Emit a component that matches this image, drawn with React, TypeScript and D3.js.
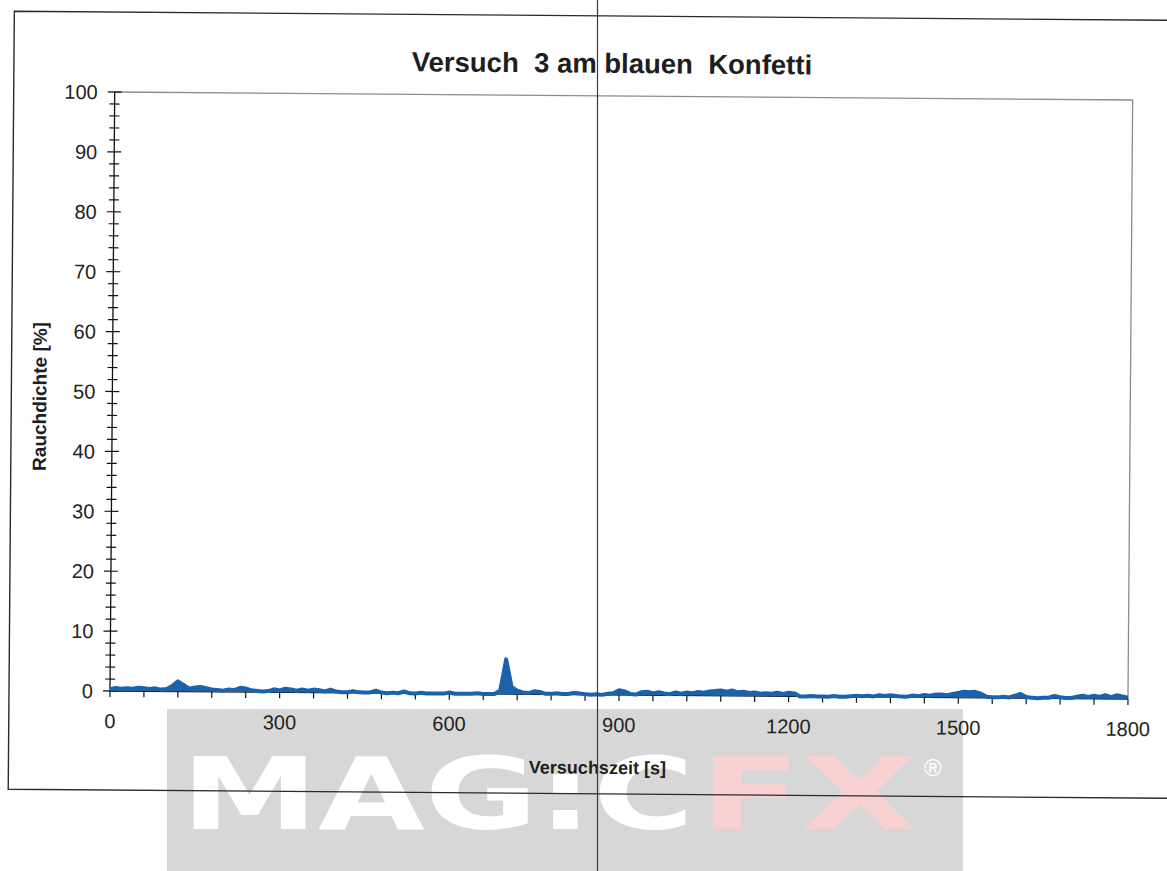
import React from "react";
import * as d3 from "d3";

const TITLE = "Versuch  3 am blauen  Konfetti";
const X_LABEL = "Versuchszeit [s]";
const Y_LABEL = "Rauchdichte [%]";
const X_TICK_LABELS = [0, 300, 600, 900, 1200, 1500, 1800];
const Y_TICK_LABELS = [0, 10, 20, 30, 40, 50, 60, 70, 80, 90, 100];

// sampled every 10 s, 0 .. 1800 s
const TIME_S = d3.range(0, 1801, 10);
const SMOKE_PCT = [
  0.3, 0.5, 0.4, 0.5, 0.4, 0.6, 0.5, 0.4, 0.5, 0.3,
  0.4, 0.9, 1.7, 1.1, 0.5, 0.7, 0.8, 0.6, 0.4, 0.3,
  0.2, 0.4, 0.3, 0.7, 0.6, 0.3, 0.2, 0.1, 0.2, 0.5,
  0.3, 0.6, 0.5, 0.3, 0.5, 0.3, 0.5, 0.4, 0.2, 0.5,
  0.2, 0.1, 0.1, 0.3, 0.1, 0.1, 0.1, 0.4, 0.1, 0.0,
  0.1, 0.0, 0.3, 0.0, 0.0, 0.1, 0.0, 0.0, 0.0, 0.0,
  0.2, 0.0, 0.0, 0.0, 0.0, 0.1, 0.0, 0.0, 0.0, 0.6,
  5.8, 1.2, 0.6, 0.3, 0.2, 0.5, 0.4, 0.1, 0.1, 0.2,
  0.1, 0.1, 0.3, 0.2, 0.1, 0.0, 0.1, 0.0, 0.2, 0.3,
  0.8, 0.6, 0.2, 0.1, 0.5, 0.6, 0.3, 0.5, 0.3, 0.2,
  0.5, 0.3, 0.5, 0.4, 0.6, 0.5, 0.7, 0.8, 0.9, 0.7,
  0.9, 0.6, 0.7, 0.5, 0.6, 0.4, 0.5, 0.4, 0.6, 0.4,
  0.6, 0.5, 0.0, 0.0, 0.1, 0.0, 0.0, 0.0, 0.1, 0.0,
  0.0, 0.1, 0.2, 0.1, 0.2, 0.1, 0.3, 0.2, 0.3, 0.2,
  0.1, 0.1, 0.3, 0.2, 0.4, 0.3, 0.5, 0.5, 0.4, 0.6,
  0.8, 1.0, 0.9, 1.0, 0.7, 0.2, 0.1, 0.1, 0.2, 0.1,
  0.4, 0.7, 0.2, 0.1, 0.0, 0.1, 0.1, 0.4, 0.2, 0.1,
  0.1, 0.3, 0.5, 0.3, 0.5, 0.3, 0.6, 0.3, 0.6, 0.4,
  0.2,
];

const W = 1167;
const H = 871;
const FONT = "'Liberation Sans', Arial, sans-serif";

export default function App() {
  const x = d3.scaleLinear().domain([0, 1800]).range([110, 1128]);
  const y = d3.scaleLinear().domain([0, 100]).range([691, 92]);
  const data = TIME_S.map((t, i) => ({ t, v: SMOKE_PCT[i] }));

  const line = d3
    .line<{ t: number; v: number }>()
    .x((d) => x(d.t))
    .y((d) => y(d.v));
  const area = d3
    .area<{ t: number; v: number }>()
    .x((d) => x(d.t))
    .y0(y(0))
    .y1((d) => y(d.v));

  const yMinor = d3.range(0, 101, 2);
  const xMinor = d3.range(0, 1801, 60);
  const [x0, x1] = x.range();
  const [yb, yt] = y.range();

  return (
    <svg
      width={W}
      height={H}
      style={{ position: "absolute", left: 0, top: 0, background: "#fff" }}
    >
      <rect x={0} y={0} width={W} height={H} fill="#fff" />

      {/* watermark */}
      <rect x={167} y={709} width={796} height={162} fill="#d7d7d7" />
      <text
        x={181}
        y={829}
        fontFamily="'DejaVu Sans', sans-serif"
        fontWeight="bold"
        fontSize={100}
        fill="#ffffff"
        textLength={513}
        lengthAdjust="spacingAndGlyphs"
      >
        MAG:C
      </text>
      <text
        x={699}
        y={829}
        fontFamily="'DejaVu Sans', sans-serif"
        fontWeight="bold"
        fontSize={100}
        fill="#f8d2d3"
        textLength={218}
        lengthAdjust="spacingAndGlyphs"
      >
        FX
      </text>
      <text x={924} y={776} fontFamily={FONT} fontSize={24} fill="#ffffff">
        ®
      </text>

      <g transform="rotate(0.45 110 691)">
        {/* outer frame */}
        <path
          d={`M1250,12 L9,12 L9,790 L1250,790`}
          fill="none"
          stroke="#2a2a2a"
          strokeWidth={1.4}
        />

        {/* title */}
        <text
          x={607}
          y={69}
          textAnchor="middle"
          fontFamily={FONT}
          fontWeight="bold"
          fontSize={27.5}
          fill="#1e1e1e"
          style={{ whiteSpace: "pre" }}
        >
          {TITLE}
        </text>

        {/* plot frame top & right */}
        <path
          d={`M${x0},${yt} L${x1},${yt} L${x1},${yb}`}
          fill="none"
          stroke="#8c8c8c"
          strokeWidth={1.3}
        />

        {/* y axis */}
        <line x1={x0} x2={x0} y1={yb} y2={yt} stroke="#111" strokeWidth={1.3} />
        {yMinor.map((v) => {
          const major = v % 10 === 0;
          return (
            <line
              key={"ym" + v}
              x1={x0 - (major ? 7 : 5)}
              x2={x0 + (major ? 7 : 5)}
              y1={y(v)}
              y2={y(v)}
              stroke="#111"
              strokeWidth={1.2}
            />
          );
        })}
        {Y_TICK_LABELS.map((v) => (
          <text
            key={"yl" + v}
            x={93}
            y={y(v)}
            dy="0.36em"
            textAnchor="end"
            fontFamily={FONT}
            fontSize={20}
            fill="#222"
          >
            {v}
          </text>
        ))}

        {/* x axis */}
        <line x1={x0} x2={x1} y1={yb} y2={yb} stroke="#111" strokeWidth={1.3} />
        {xMinor.map((t) => (
          <line
            key={"xm" + t}
            x1={x(t)}
            x2={x(t)}
            y1={yb}
            y2={yb + 6}
            stroke="#111"
            strokeWidth={1.2}
          />
        ))}
        {X_TICK_LABELS.map((t) => (
          <text
            key={"xl" + t}
            x={x(t)}
            y={728}
            textAnchor="middle"
            fontFamily={FONT}
            fontSize={20}
            fill="#222"
          >
            {t}
          </text>
        ))}

        {/* axis titles */}
        <text
          x={598}
          y={770}
          textAnchor="middle"
          fontFamily={FONT}
          fontWeight="bold"
          fontSize={18}
          fill="#1e1e1e"
        >
          {X_LABEL}
        </text>
        <text
          transform={`translate(44,397) rotate(-90)`}
          textAnchor="middle"
          fontFamily={FONT}
          fontWeight="bold"
          fontSize={19}
          fill="#1e1e1e"
        >
          {Y_LABEL}
        </text>

        {/* data */}
        <path d={area(data) || ""} fill="#1b62ad" />
        <path
          d={line(data) || ""}
          fill="none"
          stroke="#1b62ad"
          strokeWidth={4}
          strokeLinejoin="round"
        />
      </g>

      {/* scan fold line */}
      <line x1={597.5} x2={597.5} y1={0} y2={H} stroke="#3a3a3a" strokeWidth={1.2} />
    </svg>
  );
}
